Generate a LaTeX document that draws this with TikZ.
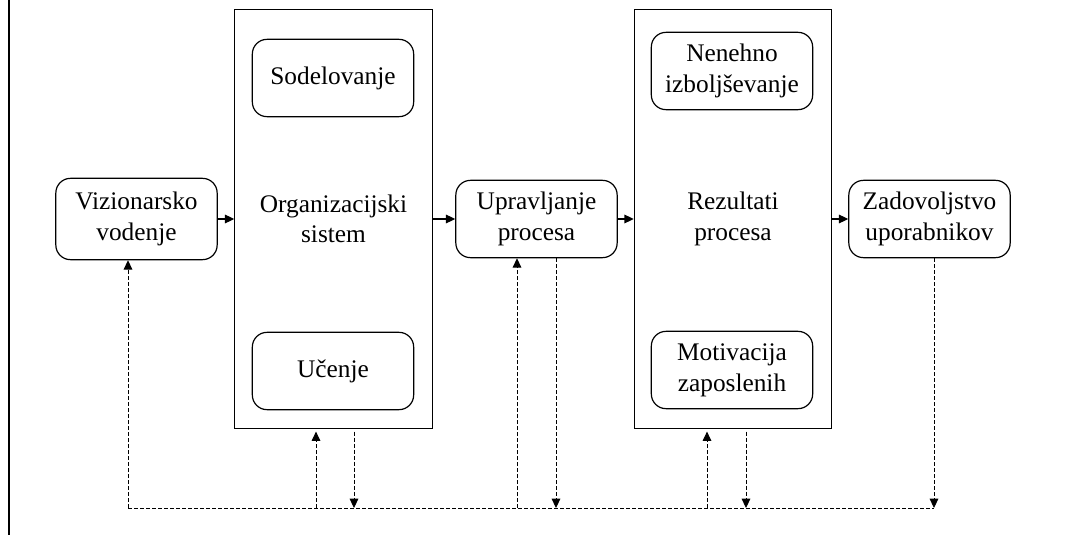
\documentclass[tikz,border=0pt]{standalone}
\usepackage{fontspec}
\setmainfont{Liberation Serif}
\usetikzlibrary{arrows.meta}

\begin{document}
\begin{tikzpicture}
		[x=0.75pt, y=-0.75pt, line width=0.9pt,
		 font=\fontsize{19}{23}\selectfont,
		 >={Triangle[length=7pt,width=6.5pt]},
		 box/.style = {draw, rounded corners=11pt, align=center, inner sep=0pt,
		               minimum width=121pt, minimum height=58pt},
		 frame/.style = {draw, align=center, inner sep=0pt,
		                 minimum width=148pt, minimum height=314pt},
		 bus/.style = {line width=0.7pt, dash pattern=on 3pt off 1.5pt},
		 fb/.style = {bus, ->}]
        \useasboundingbox (0,0) rectangle (1065,535);
        \draw[line width=1.1pt] (9,0) -- (9,535);

        \node[frame] (org) at (333.5,219) {Organizacijski\\sistem};
        \node[frame] (rez) at (733,219) {Rezultati\\procesa};

        \node[box] (sod) at (333,78) {Sodelovanje};
        \node[box] (uce) at (333,371) {Učenje};
        \node[box] (nen) at (732,71) {Nenehno\\izboljševanje};
        \node[box] (mot) at (732,370) {Motivacija\\zaposlenih};

        \node[box, minimum height=61pt] (viz) at (136.5,219) {Vizionarsko\\vodenje};
        \node[box] (upr) at (536.5,219) {Upravljanje\\procesa};
        \node[box] (zad) at (929.5,219) {Zadovoljstvo\\uporabnikov};

        \draw[->] (viz) -- (org);
        \draw[->] (org) -- (upr);
        \draw[->] (upr) -- (rez);
        \draw[->] (rez) -- (zad);

        % povratne zanke
        \coordinate (b1) at (128,508);
        \coordinate (b2) at (316,508);
        \coordinate (b3) at (354,508);
        \coordinate (b4) at (517,508);
        \coordinate (b5) at (556,508);
        \coordinate (b6) at (707,508);
        \coordinate (b7) at (746,508);
        \coordinate (b8) at (934,508);

        \draw[bus] (b1) -- (b8);
        \draw[fb] (b1) -- (b1 |- viz.south);
        \draw[fb] (b2) -- ([yshift=-2pt]b2 |- org.south);
        \draw[fb] ([yshift=-2pt]b3 |- org.south) -- (b3);
        \draw[fb] (b4) -- (b4 |- upr.south);
        \draw[fb] (b5 |- upr.south) -- (b5);
        \draw[fb] (b6) -- ([yshift=-2pt]b6 |- rez.south);
        \draw[fb] ([yshift=-2pt]b7 |- rez.south) -- (b7);
        \draw[fb] (b8 |- zad.south) -- (b8);
	\end{tikzpicture}
\end{document}
